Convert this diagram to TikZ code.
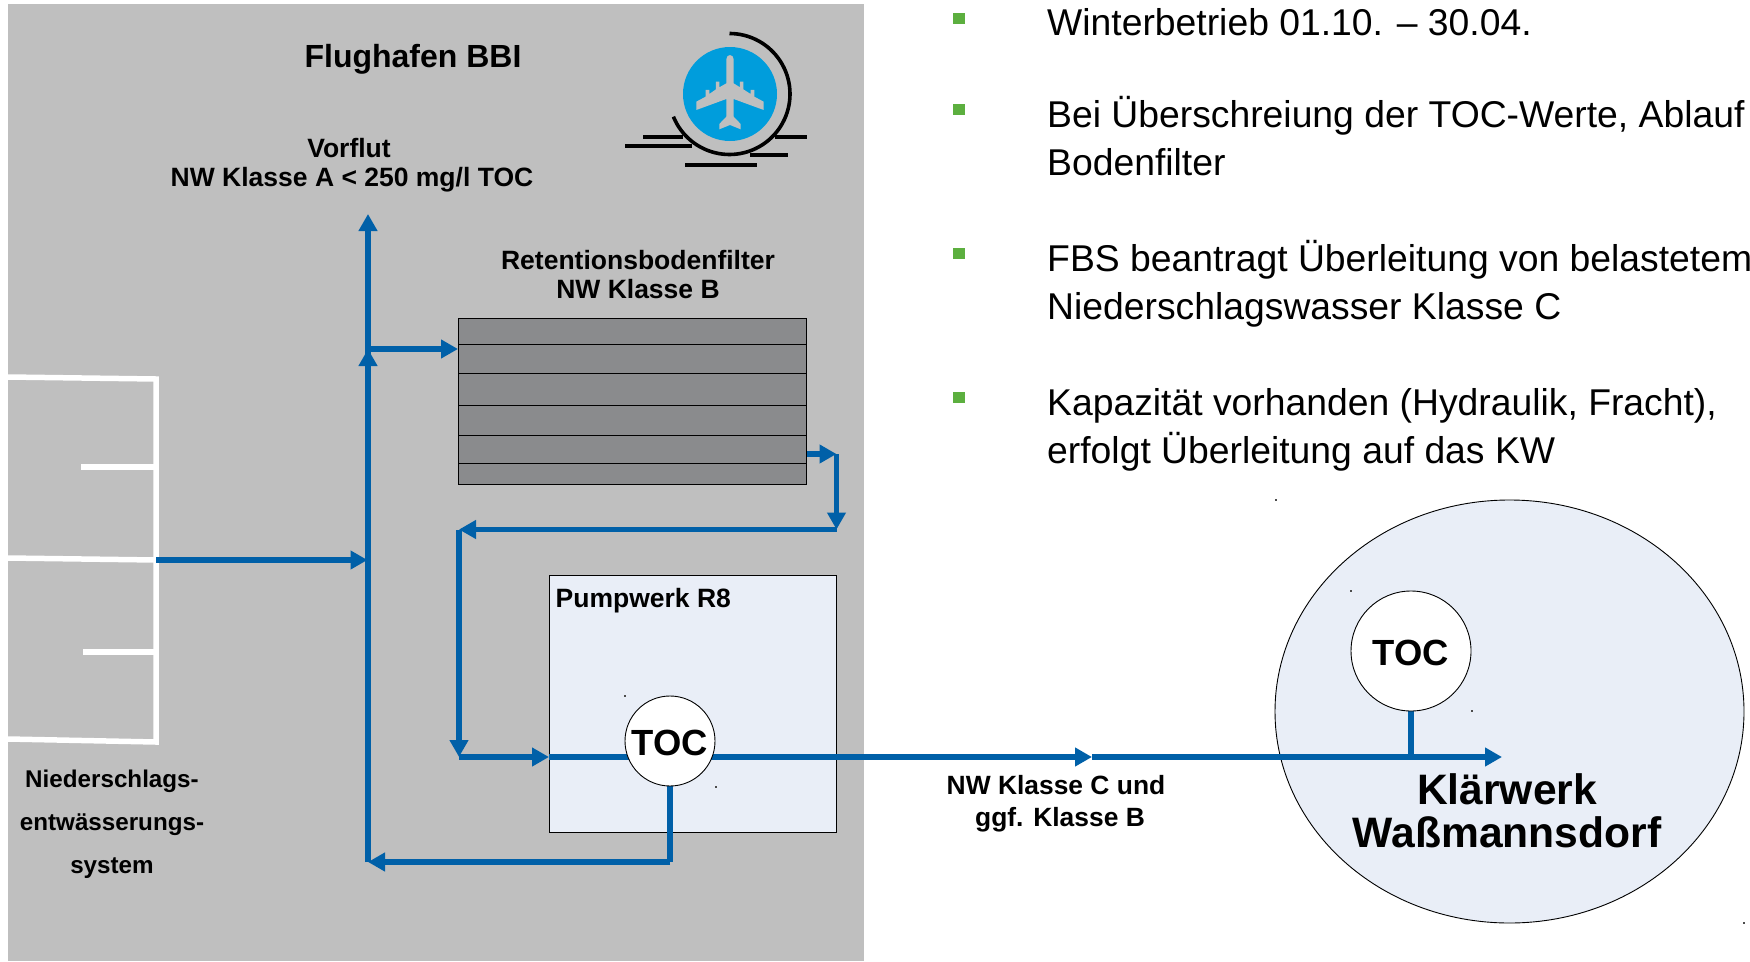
\documentclass[tikz,border=0pt]{standalone}
\usepackage{fontspec}
\setmainfont{Liberation Sans}
\usetikzlibrary{arrows.meta,shapes.geometric,calc}
\pgfdeclarelayer{back}
\pgfdeclarelayer{mid}
\pgfsetlayers{back,mid,main}
\definecolor{panelgray}{HTML}{BFBFBF}
\definecolor{pipeblue}{HTML}{0060A8}
\definecolor{filtergray}{HTML}{8A8B8D}
\definecolor{paleblue}{HTML}{E9EEF7}
\definecolor{planeblue}{HTML}{009DDC}
\definecolor{bulletgreen}{HTML}{5CAF3F}
\tikzset{
  pipe/.style={draw=pipeblue,line width=5.5pt},
  flow/.style={pipe,-{Triangle[length=17pt,width=18pt]}},
  whiteline/.style={draw=white,line width=5.5pt},
  iconline/.style={draw=black,line width=3.6pt},
  tocnode/.style={circle,draw=black,line width=0.9pt,fill=white,inner sep=0pt,font=\fontsize{36.4}{36}\selectfont\bfseries},
  lbl/.style={font=\fontsize{26.5}{29}\selectfont\bfseries,align=center,inner sep=0pt},
  bul/.style={font=\fontsize{37.3}{48}\selectfont,anchor=base west,align=left,inner sep=0pt},
  bulsq/.style={fill=bulletgreen,draw=none,inner sep=0pt,minimum width=11.5pt,minimum height=11.5pt},
  speck/.style={fill=black!70,draw=none,inner sep=0pt,minimum size=1.2pt},
}
\begin{document}
\begin{tikzpicture}[x=1pt,y=-1pt]
\useasboundingbox (0,0) rectangle (1750,961);
% main nodes
\node[tocnode,minimum size=90pt,text height=29.5pt,text depth=0pt] (toc1) at (670,741) {TOC};
\node[tocnode,minimum size=120pt,text height=28pt,text depth=0pt] (toc2) at (1411,651) {TOC};
\coordinate (collector) at (156,560);
\coordinate (trunkbottom) at (368,862);
\coordinate (trunkmid) at (368,349);
\coordinate (trunktop) at (368,214);
\coordinate (trunkin) at (367.5,560);
\coordinate (filterin) at (458,349);
\coordinate (filterout) at (807,454);
\coordinate (c1) at (836.5,454);
\coordinate (c2) at (836.5,529.5);
\coordinate (c3) at (459,529.5);
\coordinate (c4) at (459,757);
\coordinate (pumpin) at (549,757);
\coordinate (kwjoin) at (1092,757);
\coordinate (kwend) at (1502,757);
\coordinate (tocturn) at (670,862);
\coordinate (kwtap) at (1411,757);
\begin{pgfonlayer}{back}
  \fill[panelgray] (8,4) rectangle (864,961);
  % collector network
  \draw[whiteline,line join=miter] (8,377) -- (156,379) -- (156,742) -- (8,739);
  \draw[whiteline] (8,558) -- (156,560);
  \draw[whiteline] (81,467) -- (156,467);
  \draw[whiteline] (83,652) -- (156,652);
  % filter
  \node[draw=black,line width=0.9pt,fill=filtergray,minimum width=348pt,minimum height=166pt,inner sep=0pt] (filter) at (632,401) {};
  \foreach \yy in {344,373,405,435,463}
    \draw[black,line width=0.9pt] (458,\yy) -- (806.5,\yy);
  % pump station
  \node[draw=black,line width=0.9pt,fill=paleblue,minimum width=287pt,minimum height=257pt,inner sep=0pt] (pump) at (692.5,703.5) {};
  % Klaerwerk
  \node[ellipse,draw=black,line width=0.9pt,fill=paleblue,minimum width=469pt,minimum height=423pt,inner sep=0pt] (kw) at (1509.5,711.5) {};
\end{pgfonlayer}
\begin{pgfonlayer}{mid}
  \draw[pipe] (trunkbottom) -- (trunkmid);
  \draw[flow] (trunkbottom) -- (trunkmid);
  \draw[flow] (trunkmid) -- (trunktop);
  \draw[flow] (collector) -- (trunkin);
  \draw[flow] (trunkmid) -- (filterin);
  \draw[flow] (filterout) -- (c1);
  \draw[flow] (c1) -- (c2);
  \draw[flow] (c2) -- (c3);
  \draw[flow] (c3) -- (c4);
  \draw[flow] (c4) -- (pumpin);
  \draw[flow] (pumpin) -- (kwjoin);
  \draw[flow] (kwjoin) -- (kwend);
  \draw[pipe] (toc1.south) -- (tocturn);
  \draw[flow] (tocturn) -- (trunkbottom);
  \draw[pipe] (toc2.south) -- (kwtap);
\end{pgfonlayer}
% airport icon
\fill[planeblue] (730,94) circle (47);
\begin{scope}[shift={(600,0)},x=0.3333pt,y=-0.3333pt]
\fill[panelgray] (379,178) .. controls (379,161) and (401,161) .. (401,178)
  -- (401,250) -- (420,262) -- (420,245) -- (430,245) -- (430,268) -- (452,282) -- (452,270) -- (463,270) -- (463,290)
  -- (491,305) -- (491,330) -- (401,297) -- (401,350) -- (422,372) -- (422,388) -- (390,375) -- (358,388) -- (358,372)
  -- (379,350) -- (379,297) -- (289,330) -- (289,305) -- (317,290) -- (317,270) -- (328,270) -- (328,282) -- (348,268)
  -- (348,245) -- (358,245) -- (358,262) -- (379,250) -- cycle;
\end{scope}
\draw[iconline] plot[domain=-90:158,samples=70,smooth] ({729.5+60.5*cos(\x)},{94+60.5*sin(\x)});
\draw[iconline] (643,137) -- (683,137);
\draw[iconline] (775,137) -- (807,137);
\draw[iconline] (625,145.7) -- (692,145.7);
\draw[iconline] (750,155) -- (788,155);
\draw[iconline] (685,164.7) -- (757,164.7);
% labels
\node[font=\fontsize{32}{36}\selectfont\bfseries,inner sep=0pt] (title) at (413,59) {Flughafen BBI};
\node[lbl] (vorflut) at (352,165) {\hspace*{-6pt}Vorflut\\NW Klasse A < 250 mg/l TOC};
\node[lbl] (retention) at (638,275) {Retentionsbodenfilter\\NW Klasse B};
\node[lbl,anchor=base west] (pumplabel) at (555.5,607) {Pumpwerk R8};
\node[lbl,font=\fontsize{24.2}{43}\selectfont\bfseries] (nieder) at (112,824) {Niederschlags-\\entwässerungs-\\system};
\node[lbl,font=\fontsize{26.4}{32}\selectfont\bfseries] (klasse) at (1056,804) {NW Klasse C und\\\hspace*{8pt}ggf. Klasse B};
\node[font=\fontsize{42.6}{43}\selectfont\bfseries,align=center,inner sep=0pt] (kwlabel) at (1507,810.5) {Klärwerk\\Waßmannsdorf};
% bullets
\node[bulsq] (b1) at (959,18.5) {};
\node[bulsq] (b2) at (959,109.5) {};
\node[bulsq] (b3) at (959,253.5) {};
\node[bulsq] (b4) at (959,397.5) {};
\node[bul] (t1) at (1047,35.5) {Winterbetrieb 01.10. – 30.04.};
\node[bul] (t2) at (1047,175) {Bei Überschreiung der TOC-Werte, Ablauf\\Bodenfilter};
\node[bul] (t3) at (1047,319) {FBS beantragt Überleitung von belastetem\\Niederschlagswasser Klasse C};
\node[bul] (t4) at (1047,463) {Kapazität vorhanden (Hydraulik, Fracht),\\erfolgt Überleitung auf das KW};
% specks
\foreach \p [count=\i] in {(625,696),(716,787),(1276,500),(1351,591),(1472,711),(1744,923)}
  \node[speck] (sp\i) at \p {};
\end{tikzpicture}
\end{document}
